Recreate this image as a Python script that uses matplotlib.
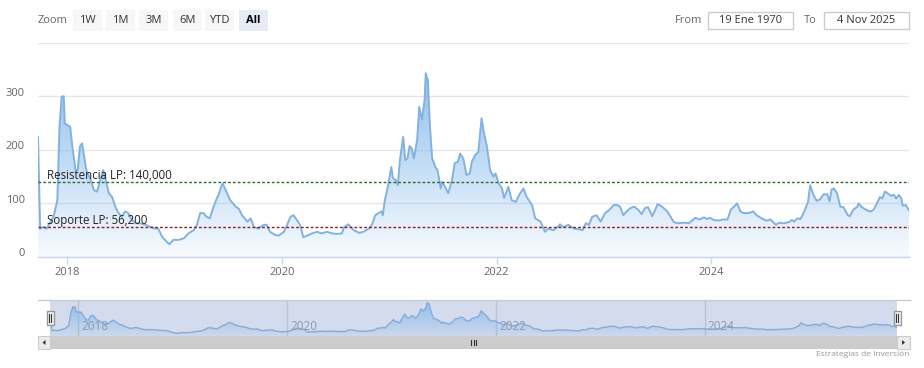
import numpy as np
import matplotlib
matplotlib.use("Agg")
import matplotlib.pyplot as plt
import matplotlib.transforms as mtransforms
from matplotlib.patches import Rectangle, Polygon
from matplotlib.colors import LinearSegmentedColormap
from matplotlib.lines import Line2D

plt.rcParams['font.family'] = ['Open Sans', 'DejaVu Sans']

# ---------------- data (decimal year, value) ----------------
data_2017 = [(2017.73, 224), (2017.75, 53), (2017.78, 56), (2017.81, 53), (2017.84, 63), (2017.875, 75),
             (2017.91, 106), (2017.93, 243), (2017.95, 299), (2017.97, 300), (2017.98, 249)]
data_2018 = [(2018.005, 246), (2018.03, 243), (2018.05, 206), (2018.08, 162), (2018.10, 162), (2018.12, 206),
             (2018.14, 212), (2018.15, 200), (2018.18, 162), (2018.22, 144), (2018.25, 125), (2018.28, 122),
             (2018.31, 144), (2018.335, 162), (2018.36, 144), (2018.39, 119), (2018.42, 112), (2018.45, 94),
             (2018.48, 82), (2018.51, 75), (2018.54, 85), (2018.57, 82), (2018.605, 69), (2018.64, 63),
             (2018.68, 63), (2018.73, 60), (2018.78, 56), (2018.82, 53), (2018.85, 53), (2018.885, 38),
             (2018.93, 28), (2018.955, 24), (2018.99, 32)]
data_2019 = [(2019.04, 32), (2019.09, 35), (2019.13, 44), (2019.18, 50), (2019.21, 60), (2019.24, 82),
             (2019.27, 82), (2019.30, 75), (2019.33, 72), (2019.365, 94), (2019.40, 112), (2019.41, 115),
             (2019.44, 134), (2019.45, 137), (2019.47, 128), (2019.52, 106), (2019.57, 94), (2019.60, 90),
             (2019.63, 78), (2019.68, 66), (2019.71, 72), (2019.74, 56), (2019.78, 53), (2019.83, 60),
             (2019.86, 60), (2019.89, 47), (2019.94, 41), (2019.97, 40)]
data_2020 = [(2020.02, 47), (2020.05, 60), (2020.08, 75), (2020.11, 78), (2020.14, 69), (2020.17, 60),
             (2020.20, 37), (2020.25, 41), (2020.28, 44), (2020.33, 47), (2020.37, 44), (2020.42, 47),
             (2020.47, 44), (2020.51, 43), (2020.56, 44), (2020.58, 56), (2020.62, 61), (2020.67, 50),
             (2020.72, 45), (2020.76, 47), (2020.81, 53), (2020.84, 60), (2020.87, 78), (2020.90, 82),
             (2020.93, 85), (2020.94, 78), (2020.96, 106), (2020.99, 134)]
data_2021 = [(2021.02, 168), (2021.035, 147), (2021.06, 144), (2021.08, 134), (2021.10, 181), (2021.13, 224),
             (2021.15, 181), (2021.17, 184), (2021.19, 207), (2021.21, 203), (2021.23, 184), (2021.26, 218),
             (2021.28, 280), (2021.305, 256), (2021.33, 293), (2021.34, 343), (2021.36, 330), (2021.38, 243),
             (2021.40, 184), (2021.43, 168), (2021.45, 162), (2021.48, 128), (2021.49, 140), (2021.52, 131),
             (2021.55, 119), (2021.585, 144), (2021.61, 175), (2021.64, 178), (2021.66, 193), (2021.69, 184),
             (2021.72, 153), (2021.75, 156), (2021.77, 178), (2021.80, 190), (2021.83, 196), (2021.86, 259),
             (2021.88, 234), (2021.91, 206), (2021.94, 162), (2021.97, 150), (2021.99, 156)]
data_2022 = [(2022.02, 137), (2022.05, 128), (2022.07, 110), (2022.11, 131), (2022.14, 106), (2022.18, 103),
             (2022.21, 116), (2022.25, 128), (2022.28, 112), (2022.33, 97), (2022.36, 72), (2022.41, 66),
             (2022.45, 47), (2022.48, 53), (2022.53, 50), (2022.58, 58), (2022.59, 61), (2022.62, 56),
             (2022.67, 60), (2022.72, 53), (2022.76, 52), (2022.80, 50), (2022.83, 63), (2022.86, 60),
             (2022.89, 75), (2022.93, 78), (2022.97, 66)]
data_2023 = [(2023.01, 82), (2023.05, 88), (2023.09, 97), (2023.12, 97), (2023.15, 94), (2023.18, 78),
             (2023.21, 85), (2023.245, 91), (2023.28, 94), (2023.32, 88), (2023.35, 80), (2023.38, 91),
             (2023.41, 93), (2023.45, 76), (2023.50, 99), (2023.54, 94), (2023.59, 85), (2023.62, 75),
             (2023.65, 65), (2023.69, 63), (2023.74, 64), (2023.79, 63), (2023.82, 68), (2023.85, 73),
             (2023.89, 70), (2023.93, 74), (2023.96, 71), (2023.99, 73)]
data_2024 = [(2024.02, 69), (2024.07, 68), (2024.11, 70), (2024.15, 70), (2024.18, 88), (2024.21, 94),
             (2024.24, 100), (2024.27, 85), (2024.30, 82), (2024.35, 82), (2024.39, 85), (2024.42, 78),
             (2024.47, 72), (2024.51, 68), (2024.55, 70), (2024.58, 64), (2024.60, 60), (2024.63, 64),
             (2024.67, 63), (2024.72, 65), (2024.75, 69), (2024.77, 66), (2024.80, 72), (2024.83, 71),
             (2024.865, 85), (2024.90, 103), (2024.92, 134), (2024.95, 116), (2024.98, 105)]
data_2025 = [(2025.01, 107), (2025.045, 117), (2025.08, 117), (2025.10, 104), (2025.12, 126), (2025.14, 128),
             (2025.17, 119), (2025.20, 94), (2025.23, 93), (2025.27, 78), (2025.29, 76), (2025.32, 88),
             (2025.36, 94), (2025.37, 100), (2025.40, 93), (2025.45, 87), (2025.48, 85), (2025.51, 88),
             (2025.54, 100), (2025.57, 112), (2025.59, 109), (2025.615, 122), (2025.635, 120), (2025.67, 114),
             (2025.70, 116), (2025.72, 109), (2025.745, 116), (2025.77, 109), (2025.78, 96), (2025.81, 97),
             (2025.84, 87)]

resistance = 140.0
support = 56.2
resistance_label = "Resistencia LP: 140,000"
support_label = "Soporte LP: 56,200"
y_ticks = [0, 100, 200, 300, 400]
y_tick_labels = ["0", "100", "200", "300", ""]
x_ticks = [2018, 2020, 2022, 2024]
x_tick_labels = ["2018", "2020", "2022", "2024"]
zoom_buttons = ["1W", "1M", "3M", "6M", "YTD", "All"]
selected_button = "All"
from_date = "19 Ene 1970"
to_date = "4 Nov 2025"
credit = "Estrategias de Inversión"

series = data_2017 + data_2018 + data_2019 + data_2020 + data_2021 + data_2022 + data_2023 + data_2024 + data_2025
years = np.array([p[0] for p in series])
values = np.array([p[1] for p in series], dtype=float)

# ---------------- figure ----------------
W, H = 924, 368
fig = plt.figure(figsize=(W / 100, H / 100), dpi=100)
fig.patch.set_facecolor("white")


def box(x0, y0, x1, y1):
    return [x0 / W, 1 - y1 / H, (x1 - x0) / W, (y1 - y0) / H]


def px(x, y):
    return x / W, 1 - y / H


BLUE = (124 / 255, 181 / 255, 236 / 255)


def gradient_area(axis, x, y, top, a_top, a_bot, line_color, lw):
    cmap = LinearSegmentedColormap.from_list("g", [BLUE + (a_bot,), BLUE + (a_top,)])
    grad = np.linspace(0, 1, 256).reshape(-1, 1)
    im = axis.imshow(grad, extent=[x[0], x[-1], 0, top], origin="lower", aspect="auto",
                     cmap=cmap, zorder=2, interpolation="bilinear")
    verts = np.column_stack([np.r_[x, x[::-1]], np.r_[y, np.zeros_like(y)]])
    clip = Polygon(verts, closed=True, facecolor="none", edgecolor="none", transform=axis.transData)
    axis.add_patch(clip)
    im.set_clip_path(clip)
    axis.plot(x, y, color=line_color, lw=lw, zorder=4, solid_joinstyle="round")


# ---------------- main axes ----------------
ax = fig.add_axes(box(38, 42.6, 909, 257))
ax.set_facecolor("none")
gradient_area(ax, years, values, values.max(), 0.85, 0.06, "#84b2df", 1.4)
ax.set_xlim(years[0], years[-1])
ax.set_ylim(0, 400)
for s in ax.spines.values():
    s.set_visible(False)
ax.set_yticks(y_ticks)
ax.set_yticklabels(y_tick_labels)
ax.set_xticks(x_ticks)
ax.set_xticklabels(x_tick_labels)
ax.grid(axis="y", color="#e6e6e6", lw=1)
ax.set_axisbelow(True)
ax.tick_params(axis="y", length=0, pad=9.5, labelsize=8, labelcolor="#666666")
ax.tick_params(axis="x", length=5, width=1, color="#ccd6eb", pad=2, labelsize=8, labelcolor="#666666")
off = mtransforms.ScaledTranslation(0, 4.5 / 100, fig.dpi_scale_trans)
for lbl in ax.get_yticklabels():
    lbl.set_transform(lbl.get_transform() + off)
ax.axhline(0, color="#ccd6eb", lw=1, zorder=5, clip_on=False)

ax.axhline(resistance, color="#2f6a2f", lw=1, ls=(0, (2, 1.5)), zorder=5)
ax.axhline(support, color="#8e1f1f", lw=1, ls=(0, (2, 1.5)), zorder=5)
ax.annotate(resistance_label, xy=(years[0], resistance), xytext=(9.5, 3), textcoords="offset pixels",
            fontsize=8.3, color="#222222", ha="left", va="baseline", zorder=6)
ax.annotate(support_label, xy=(years[0], support), xytext=(9.5, 3), textcoords="offset pixels",
            fontsize=8.3, color="#222222", ha="left", va="baseline", zorder=6)

# ---------------- navigator ----------------
nav = fig.add_axes(box(50, 300, 897, 335.7))
nav.set_facecolor("#d3dbec")
gradient_area(nav, years, values, values.max(), 0.75, 0.08, "#86abd9", 1.0)
nav.set_xlim(years[0], years[-1])
nav.set_ylim(0, 371)
for s in nav.spines.values():
    s.set_visible(False)
nav.set_yticks([])
nav.set_xticks(x_ticks)
nav.set_xticklabels([])
nav.tick_params(length=0)
nav.grid(axis="x", color="#b9c1d2", lw=1)
nav.set_axisbelow(True)
for t, lab in zip(x_ticks, x_tick_labels):
    nav.annotate(lab, xy=(t, 0), xytext=(3, 3), textcoords="offset pixels", fontsize=8.5,
                 color="#8f99ab", ha="left", va="bottom", zorder=6)

# outline at top of navigator
fig.add_artist(Line2D([38 / W, 910 / W], [1 - 300 / H, 1 - 300 / H], color="#cccccc", lw=1))

# handles
for hx in (50, 897):
    fig.add_artist(Rectangle(px(hx - 3.5, 325), 7 / W, 14.5 / H, facecolor="#f2f2f2",
                             edgecolor="#999999", lw=1, zorder=10))
    for dx in (-1.2, 1.2):
        fig.add_artist(Line2D([(hx + dx) / W] * 2, [1 - 313.5 / H, 1 - 321.5 / H], color="#333333",
                              lw=0.8, zorder=11))

# scrollbar
fig.add_artist(Rectangle(px(38, 349), (910 - 38) / W, 13 / H, facecolor="#f2f2f2", edgecolor="none"))
fig.add_artist(Rectangle(px(50, 349), (897 - 50) / W, 13 / H, facecolor="#cccccc", edgecolor="none"))
fig.add_artist(Rectangle(px(38, 349), 12 / W, 13 / H, facecolor="#ebebeb", edgecolor="#cccccc", lw=0.8))
fig.add_artist(Rectangle(px(897, 349), 13 / W, 13 / H, facecolor="#ebebeb", edgecolor="#cccccc", lw=0.8))
fig.add_artist(Polygon([px(42.5, 342.5), px(45.5, 340), px(45.5, 345)], closed=True, facecolor="#333333",
                       edgecolor="none"))
fig.add_artist(Polygon([px(905, 342.5), px(902, 340), px(902, 345)], closed=True, facecolor="#333333",
                       edgecolor="none"))
for gx in (470.5, 473.5, 476.5):
    fig.add_artist(Line2D([gx / W] * 2, [1 - 339.5 / H, 1 - 345 / H], color="#333333", lw=0.8))

# credit
fig.text(909 / W, 1 - 354 / H, credit, fontsize=6, color="#999999", ha="right", va="center")

# ---------------- range selector ----------------
fig.text(38 / W, 1 - 20.5 / H, "Zoom", fontsize=8, color="#666666", ha="left", va="center")
btn_x = [72.7, 106, 139.3, 172.7, 205, 239]
for bx, lab in zip(btn_x, zoom_buttons):
    sel = lab == selected_button
    fig.add_artist(Rectangle(px(bx, 30.7), 29 / W, 20.7 / H,
                             facecolor="#e6ebf5" if sel else "#f7f7f7", edgecolor="none"))
    fig.text((bx + 14.5) / W, 1 - 20.5 / H, lab, fontsize=8, color="#000000" if sel else "#333333",
             fontweight="bold" if sel else "normal", ha="center", va="center")

fig.text(675 / W, 1 - 20.5 / H, "From", fontsize=8, color="#666666", ha="left", va="center")
fig.add_artist(Rectangle(px(708, 29.3), 85 / W, 17.6 / H, facecolor="white", edgecolor="#cccccc", lw=1))
fig.text(750.5 / W, 1 - 20.5 / H, from_date, fontsize=8, color="#333333", ha="center", va="center")
fig.text(803.7 / W, 1 - 20.5 / H, "To", fontsize=8, color="#666666", ha="left", va="center")
fig.add_artist(Rectangle(px(823.7, 29.3), 85 / W, 17.6 / H, facecolor="white", edgecolor="#cccccc", lw=1))
fig.text(866.2 / W, 1 - 20.5 / H, to_date, fontsize=8, color="#333333", ha="center", va="center")

fig.savefig("out.png", dpi=100, facecolor="white")
